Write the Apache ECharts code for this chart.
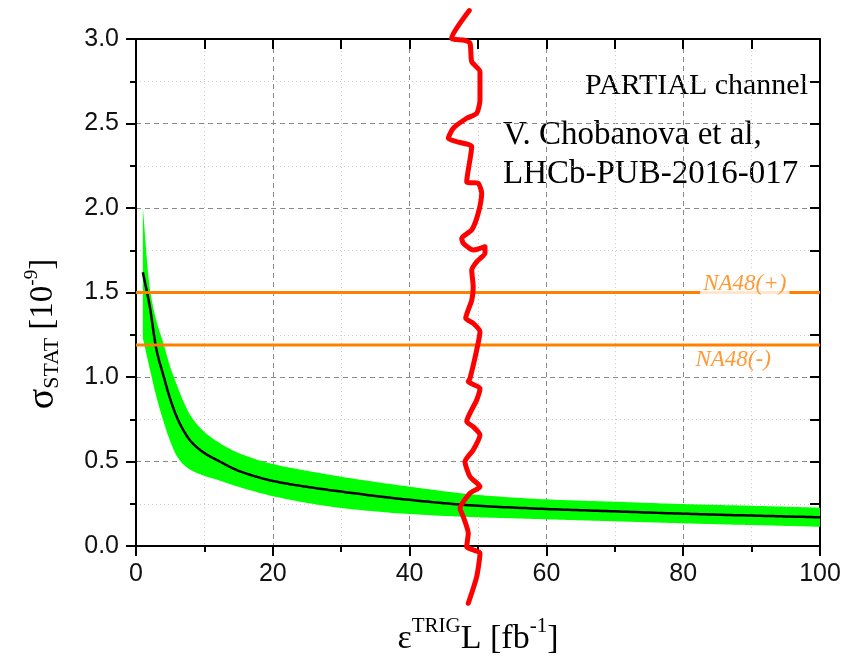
<!DOCTYPE html>
<html><head><meta charset="utf-8">
<script src="https://cdn.jsdelivr.net/npm/echarts@6.0.0/dist/echarts.min.js"></script>
<style>html,body{margin:0;padding:0;background:#fff}#c{width:845px;height:656px}</style>
</head><body><div id="c"></div><script>
// ---- data ----
const bandX        = [1,    2,    3,    4,    5,    6,    7,    8,    10,   12,   15,    20,    25,   30,    40,    50,    60,    70,    80,    90,    100];
const sigmaCentral = [1.62, 1.42, 1.16, 1.01, 0.87, 0.76, 0.68, 0.62, 0.55, 0.505,0.445, 0.385, 0.35, 0.322, 0.273, 0.238, 0.219, 0.205, 0.191, 0.180, 0.170];
const sigmaUpper   = [2.00, 1.53, 1.33, 1.20, 1.06, 0.95, 0.85, 0.77, 0.675,0.615,0.55,  0.485, 0.445,0.41,  0.351, 0.302, 0.276, 0.262, 0.248, 0.238, 0.227];
const sigmaLower   = [1.23, 1.05, 0.88, 0.74, 0.62, 0.53, 0.48, 0.45, 0.415,0.39, 0.35,  0.295, 0.255,0.225, 0.189, 0.170, 0.158, 0.146, 0.134, 0.124, 0.114];
const na48Plus  = 1.5;
const na48Minus = 1.19;
const na48Labels = ['NA48(+)', 'NA48(-)'];
const na48LabelX = [89.0, 87.3];
const redX = [48.73,46.15,47.85,48.83,49.08,50.29,50.29,49.81,48.35,46.39,45.66,46.89,49.08,48.35,50.03,50.54,50.03,49.08,47.62,47.85,49.30,51.02,51.02,49.81,49.08,49.30,49.10,48.20,49.30,50.29,49.81,48.83,48.58,50.29,49.81,48.35,49.30,50.29,49.30,48.10,48.83,50.29,48.83,47.37,47.85,48.58,48.35,50.29,49.81,48.58];
const redY = [3.168,3.004,2.994,2.975,2.866,2.807,2.639,2.560,2.531,2.472,2.412,2.392,2.363,2.156,2.146,2.087,1.969,1.870,1.821,1.791,1.751,1.771,1.732,1.682,1.633,1.534,1.456,1.347,1.318,1.268,1.160,0.992,0.972,0.933,0.864,0.736,0.706,0.657,0.568,0.499,0.410,0.351,0.312,0.223,0.173,0.075,-0.004,-0.043,-0.182,-0.339];
const yTickLabels = ['0.0','0.5','1.0','1.5','2.0','2.5','3.0'];
const annotations = ['PARTIAL channel', 'V. Chobanova et al,', 'LHCb-PUB-2016-017'];

// ---- chart ----
const chart = echarts.init(document.getElementById('c'));
const zip = (a, b) => a.map((v, i) => [v, b[i]]);
const serif = '"Liberation Serif", "DejaVu Serif", serif';
const sans = '"Liberation Sans", Arial, sans-serif';
const axisLineStyle = { color: '#000', width: 2 };

// Smooth (monotone-in-x cubic) outline through pixel points, for drawing only.
function smoothOutline(p) {
  const n = p.length, m = new Array(n), d = [], h = [];
  for (let k = 0; k < n - 1; k++) { h.push(p[k+1][0] - p[k][0]); d.push((p[k+1][1] - p[k][1]) / h[k]); }
  m[0] = d[0]; m[n-1] = d[n-2];
  for (let k = 1; k < n - 1; k++) {
    const d0 = d[k-1], d1 = d[k], h0 = h[k-1], h1 = h[k];
    m[k] = (d0 * d1 <= 0) ? 0 : 3 * (h0 + h1) / ((2 * h1 + h0) / d0 + (h1 + 2 * h0) / d1);
  }
  const out = [];
  for (let k = 0; k < n - 1; k++) {
    const x0 = p[k][0], y0 = p[k][1], x3 = p[k+1][0], y3 = p[k+1][1];
    const x1 = x0 + h[k] / 3, y1 = y0 + m[k] * h[k] / 3;
    const x2 = x3 - h[k] / 3, y2 = y3 - m[k+1] * h[k] / 3;
    const steps = 16;
    for (let s = (k === 0 ? 0 : 1); s <= steps; s++) {
      const t = s / steps, u = 1 - t;
      out.push([u*u*u*x0 + 3*u*u*t*x1 + 3*u*t*t*x2 + t*t*t*x3,
                u*u*u*y0 + 3*u*u*t*y1 + 3*u*t*t*y2 + t*t*t*y3]);
    }
  }
  return out;
}

const option = {
  animation: false,
  backgroundColor: '#fff',
  grid: { left: 136, right: 25, top: 39, bottom: 110, outerBoundsMode: 'none' },
  xAxis: [{
    type: 'value', min: 0, max: 100, interval: 20, position: 'bottom',
    axisLine: { show: true, onZero: false, lineStyle: axisLineStyle },
    axisTick: { show: true, inside: false, length: 10, lineStyle: { width: 2, color: '#000' } },
    minorTick: { show: true, splitNumber: 2, length: 6, lineStyle: { width: 2, color: '#000' } },
    axisLabel: { color: '#111', fontFamily: sans, fontSize: 25, margin: 16 },
    splitLine: { show: true, lineStyle: { color: '#8a8a8a', type: [5, 4], width: 1 } },
    minorSplitLine: { show: true, lineStyle: { color: '#cccccc', type: [1, 3], width: 1 } }
  }, {
    type: 'value', min: 0, max: 100, interval: 10, position: 'top',
    axisLine: { show: true, onZero: false, lineStyle: axisLineStyle },
    axisTick: { show: true, inside: true, length: 10, lineStyle: { width: 2, color: '#000' } },
    axisLabel: { show: false }, splitLine: { show: false }
  }],
  yAxis: [{
    type: 'value', min: 0, max: 3, interval: 0.5, position: 'left',
    axisLine: { show: true, onZero: false, lineStyle: axisLineStyle },
    axisTick: { show: true, inside: false, length: 10, lineStyle: { width: 2, color: '#000' } },
    minorTick: { show: true, splitNumber: 2, length: 6, lineStyle: { width: 2, color: '#000' } },
    axisLabel: { color: '#111', fontFamily: sans, fontSize: 25, margin: 17,
      formatter: v => yTickLabels[Math.round(v / 0.5)] },
    splitLine: { show: true, lineStyle: { color: '#8a8a8a', type: [5, 4], width: 1 } },
    minorSplitLine: { show: true, lineStyle: { color: '#cccccc', type: [1, 3], width: 1 } }
  }, {
    type: 'value', min: 0, max: 3, interval: 0.25, position: 'right',
    axisLine: { show: true, onZero: false, lineStyle: axisLineStyle },
    axisTick: { show: true, inside: true, length: 10, lineStyle: { width: 2, color: '#000' } },
    axisLabel: { show: false }, splitLine: { show: false }
  }],
  series: [
    {
      type: 'custom', name: 'band', coordinateSystem: 'cartesian2d',
      xAxisIndex: 0, yAxisIndex: 0, z: 2, silent: true,
      data: [[bandX[0], sigmaUpper[0]]],
      renderItem: (params, api) => {
        const up = bandX.map((x, i) => api.coord([x, sigmaUpper[i]]));
        const lo = bandX.map((x, i) => api.coord([x, sigmaLower[i]]));
        const pts = smoothOutline(up).concat(smoothOutline(lo).reverse());
        return { type: 'polygon', shape: { points: pts }, style: { fill: '#00ff00' } };
      }
    },
    {
      type: 'custom', name: 'central', coordinateSystem: 'cartesian2d',
      xAxisIndex: 0, yAxisIndex: 0, z: 3, silent: true,
      data: [[bandX[0], sigmaCentral[0]]],
      renderItem: (params, api) => {
        const pts = smoothOutline(bandX.map((x, i) => api.coord([x, sigmaCentral[i]])));
        return { type: 'polyline', shape: { points: pts }, style: { stroke: '#000', lineWidth: 2.5, fill: null } };
      }
    },
    {
      type: 'line', name: 'NA48+', data: [[0, na48Plus], [100, na48Plus]], z: 4,
      showSymbol: false, lineStyle: { color: '#ff8000', width: 3 }
    },
    {
      type: 'line', name: 'NA48-', data: [[0, na48Minus], [100, na48Minus]], z: 4,
      showSymbol: false, lineStyle: { color: '#ff8000', width: 3 }
    },
    {
      type: 'scatter', name: 'NA48 labels', z: 5, symbolSize: 0,
      data: [
        { value: [na48LabelX[0], na48Plus], label: { formatter: na48Labels[0], offset: [0, -9], backgroundColor: '#fff', padding: [1, 3, 1, 3] } },
        { value: [na48LabelX[1], na48Minus], label: { formatter: na48Labels[1], offset: [0, 15] } }
      ],
      label: { show: true, position: 'inside', color: '#ff8000', fontFamily: serif, fontStyle: 'italic', fontSize: 23 }
    },
    {
      type: 'line', name: 'red', data: zip(redX, redY), z: 10, clip: false,
      smooth: 0.2, showSymbol: false, lineStyle: { color: '#ff0000', width: 5, cap: 'round', join: 'round' }
    }
  ],
  graphic: [
    { type: 'text', x: 43, y: 334, rotation: Math.PI / 2,
      style: {
        text: '{s|σ}{sub|STAT}{b| [10}{sup|-9}{b|]}', align: 'center', verticalAlign: 'middle',
        rich: {
          s: { fontFamily: serif, fontSize: 38, lineHeight: 40, verticalAlign: 'middle', fill: '#000' },
          b: { fontFamily: serif, fontSize: 33, lineHeight: 40, verticalAlign: 'middle', fill: '#000' },
          sub: { fontFamily: serif, fontSize: 22, lineHeight: 40, verticalAlign: 'bottom', fill: '#000' },
          sup: { fontFamily: serif, fontSize: 19, lineHeight: 40, verticalAlign: 'top', fill: '#000' }
        }
      } },
    { type: 'text', x: 478, y: 616,
      style: {
        text: '{e|ε}{sup|TRIG}{b|L [fb}{sup|-1}{b|]}', align: 'center', verticalAlign: 'top',
        rich: {
          e: { fontFamily: serif, fontSize: 34, lineHeight: 40, verticalAlign: 'bottom', fill: '#000' },
          b: { fontFamily: serif, fontSize: 34, lineHeight: 40, verticalAlign: 'bottom', fill: '#000' },
          sup: { fontFamily: serif, fontSize: 21, lineHeight: 40, verticalAlign: 'top', fill: '#000' }
        }
      } },
    { type: 'text', right: 37, top: 71, style: { text: annotations[0], fontFamily: serif, fontSize: 30, fill: '#000' } },
    { type: 'text', left: 503, top: 119, style: { text: annotations[1], fontFamily: serif, fontSize: 33, fill: '#000' } },
    { type: 'text', left: 503, top: 158, style: { text: annotations[2], fontFamily: serif, fontSize: 33, fill: '#000' } }
  ]
};
chart.setOption(option);
</script></body></html>
